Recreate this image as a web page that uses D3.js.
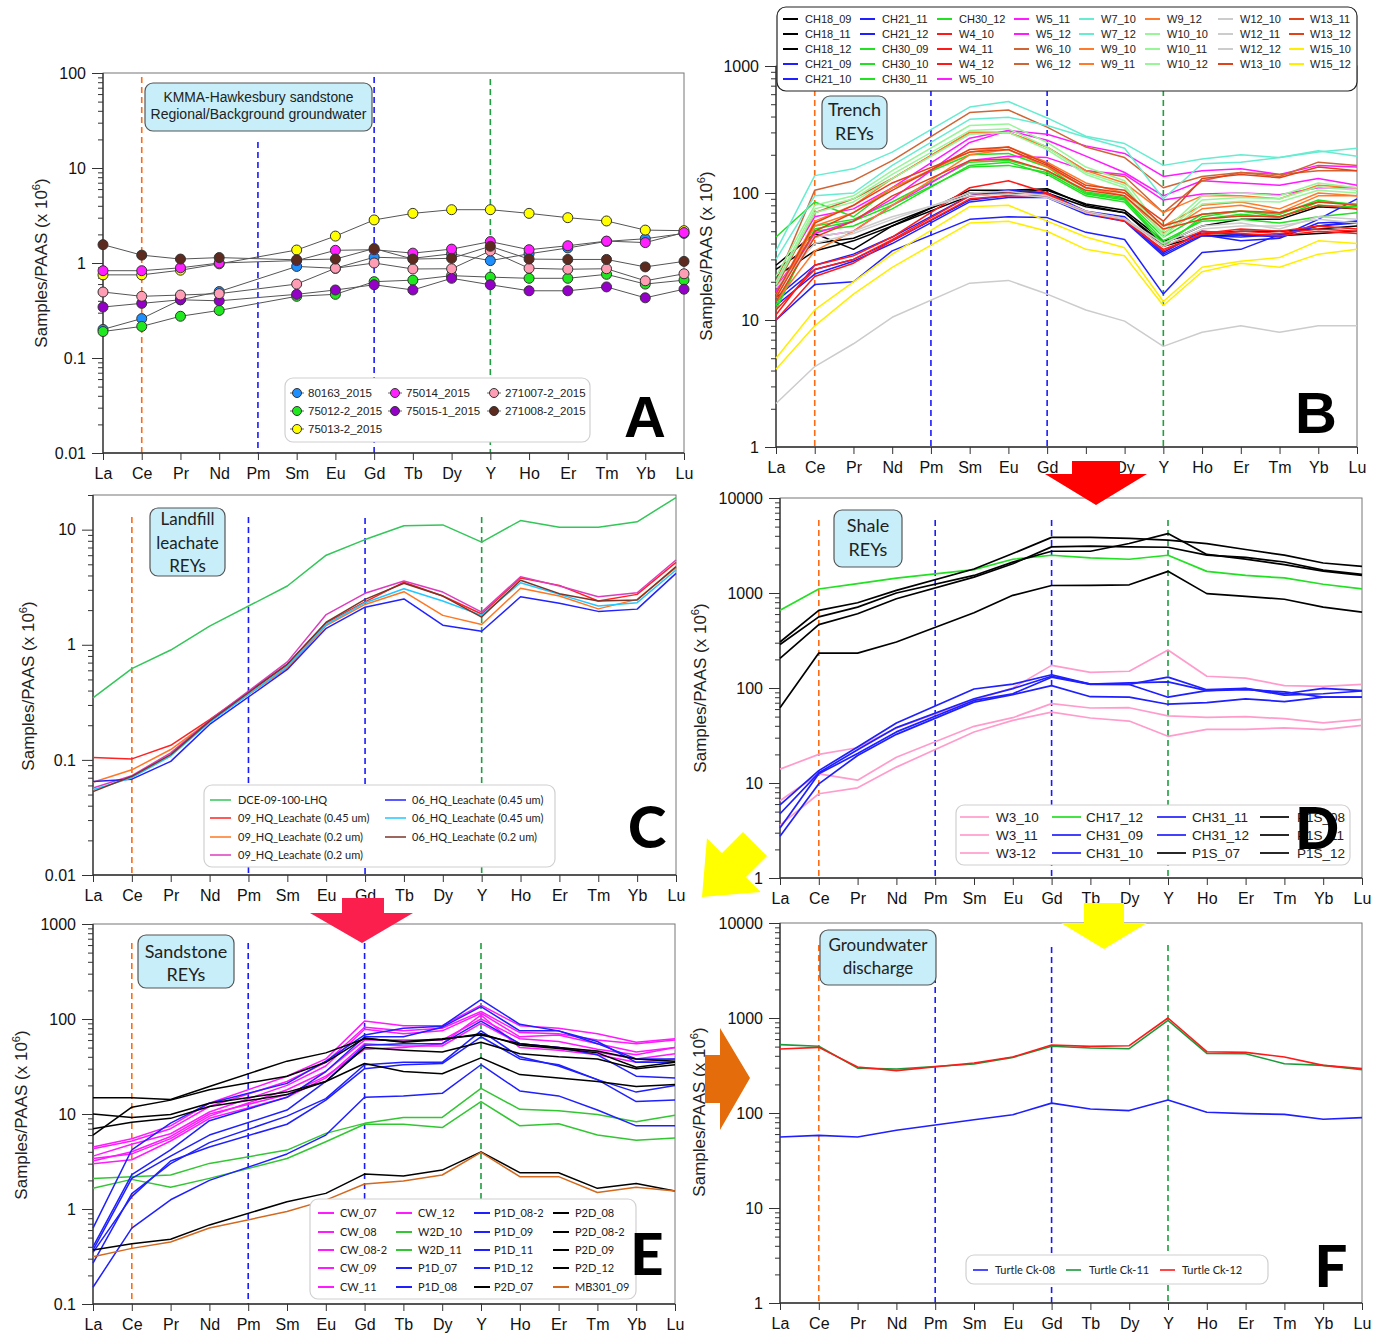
<!DOCTYPE html>
<html><head><meta charset="utf-8">
<script src="https://cdn.jsdelivr.net/npm/d3@7"></script>
<style>body{margin:0;background:#fff}</style>
</head><body><svg id="c" width="1386" height="1335"></svg>
<script>
const elements = ["La","Ce","Pr","Nd","Pm","Sm","Eu","Gd","Tb","Dy","Y","Ho","Er","Tm","Yb","Lu"];

// ---------- Panel A ----------
const A_80163_2015   = [0.20,0.26,0.41,0.50,null,0.92,0.88,1.15,1.12,1.25,1.06,1.25,1.44,1.69,1.80,2.05];
const A_75012_2_2015 = [0.19,0.215,0.275,0.317,null,0.446,0.468,0.636,0.66,0.736,0.71,0.69,0.69,0.76,0.60,0.66];
const A_75013_2_2015 = [0.75,0.75,0.84,0.98,null,1.37,1.92,2.84,3.33,3.64,3.64,3.33,3.0,2.77,2.22,2.19];
const A_75014_2015   = [0.83,0.83,0.89,1.0,null,1.06,1.36,1.38,1.27,1.40,1.68,1.38,1.52,1.70,1.64,2.09];
const A_75015_1_2015 = [0.344,0.376,0.41,0.40,null,0.468,0.52,0.59,0.52,0.69,0.59,0.51,0.51,0.56,0.43,0.53];
const A_271007_2_2015= [0.495,0.446,0.46,0.476,null,0.60,0.88,1.0,0.865,0.87,1.34,0.88,0.86,0.87,0.65,0.77];
const A_271008_2_2015= [1.56,1.21,1.10,1.14,null,1.08,1.10,1.42,1.10,1.12,1.50,1.10,1.09,1.09,0.91,1.04];
const aNames  = ["80163_2015","75012-2_2015","75013-2_2015","75014_2015","75015-1_2015","271007-2_2015","271008-2_2015"];
const aColors = ["#1e8fff","#1fe81f","#ffff00","#ff1fff","#9400c8","#ff9db4","#5c2a1e"];
const aValues = [A_80163_2015,A_75012_2_2015,A_75013_2_2015,A_75014_2015,A_75015_1_2015,A_271007_2_2015,A_271008_2_2015];

// ---------- Panel B ----------
const bNames = ["CH18_09","CH18_11","CH18_12","CH21_09","CH21_10","CH21_11","CH21_12","CH30_09","CH30_10","CH30_11","CH30_12",
  "W4_10","W4_11","W4_12","W5_10","W5_11","W5_12","W6_10","W6_12","W7_10","W7_12","W9_10","W9_11","W9_12",
  "W10_10","W10_11","W10_12","W12_10","W12_11","W12_12","W13_10","W13_11","W13_12","W15_10","W15_12"];
const bColors = ["#000000","#000000","#000000","#1f1fff","#1f1fff","#1f1fff","#1f1fff","#22e022","#22e022","#22e022","#22e022",
  "#ff1a1a","#ff1a1a","#ff1a1a","#ff1aff","#ff1aff","#ff1aff","#cf6535","#cf6535","#66ecd0","#66ecd0","#ff7a2a","#ff7a2a","#ff7a2a",
  "#98f598","#98f598","#98f598","#cccccc","#cccccc","#cccccc","#e0421a","#e0421a","#e0421a","#ffee00","#ffee00"];
const B_CH18_09 = [27,48,36,55,null,105,105,108,80,70,40,55,62,62,78,75];
const B_CH18_11 = [25,40,44,58,null,100,102,105,82,73,42,48,50,50,52,55];
const B_CH18_12 = [22,35,42,55,null,95,100,100,78,70,38,46,47,46,48,50];
const B_CH21_09 = [15,27,33,45,null,95,105,100,72,65,34,50,47,45,62,90];
const B_CH21_10 = [14,25,30,42,null,88,95,95,70,62,33,47,42,44,58,60];
const B_CH21_11 = [13,23,29,40,null,85,92,92,68,60,32,46,45,47,55,58];
const B_CH21_12 = [10,19,20,35,null,62,65,64,49,43,16,34,36,47,55,60];
const B_CH30_09 = [45,85,65,110,null,200,205,160,100,90,45,68,72,68,88,80];
const B_CH30_10 = [13,50,55,75,null,165,175,140,95,85,40,62,68,64,85,82];
const B_CH30_11 = [12,52,60,80,null,160,165,145,98,88,42,60,62,58,65,70];
const B_CH30_12 = [16,55,62,85,null,175,180,150,102,92,38,65,72,65,80,78];
const B_W4_10 = [10,22,28,42,null,90,95,95,72,62,35,48,52,50,55,52];
const B_W4_11 = [11,27,32,45,null,110,125,100,70,60,36,47,50,48,52,50];
const B_W4_12 = [12,25,30,43,null,95,100,98,70,63,38,50,48,46,50,48];
const B_W5_10 = [20,65,75,110,null,270,310,290,235,205,135,150,155,140,165,160];
const B_W5_11 = [18,48,60,90,null,250,310,260,195,145,95,125,120,115,130,115];
const B_W5_12 = [17,45,50,80,null,180,195,190,150,140,88,98,100,97,110,110];
const B_W6_10 = [20,105,125,180,null,430,450,330,230,190,110,135,145,135,175,165];
const B_W6_12 = [18,70,90,130,null,300,300,230,150,135,70,125,145,140,150,150];
const B_W7_10 = [35,137,155,210,null,475,525,390,280,245,165,185,200,190,210,225];
const B_W7_12 = [30,95,100,165,null,380,395,340,275,225,90,170,175,190,215,195];
const B_W9_10 = [15,55,70,110,null,210,230,175,120,100,55,80,85,75,100,95];
const B_W9_11 = [14,35,50,80,null,200,220,160,110,95,48,75,80,70,95,95];
const B_W9_12 = [16,60,80,130,null,300,300,230,150,120,70,95,95,90,115,110];
const B_W10_10 = [22,80,95,150,null,340,350,250,160,125,50,95,100,95,120,110];
const B_W10_11 = [20,75,90,140,null,310,320,230,145,115,47,88,92,90,112,105];
const B_W10_12 = [19,70,85,130,null,290,300,220,140,110,45,82,86,85,105,100];
const B_W12_10 = [2.2,4.3,6.5,10.5,null,19.5,20.5,16,12,9.8,6.2,8,9,8,9,9];
const B_W12_11 = [18,40,48,62,null,100,103,95,72,63,40,55,58,52,65,62];
const B_W12_12 = [16,45,50,65,null,95,98,92,70,62,38,52,55,55,62,58];
const B_W13_10 = [16,58,80,120,null,210,220,165,110,100,60,130,140,132,160,150];
const B_W13_11 = [15,50,70,105,null,220,230,170,115,105,55,68,72,70,85,80];
const B_W13_12 = [14,45,60,95,null,180,185,150,105,95,52,62,66,65,80,75];
const B_W15_10 = [5,12,20,33,null,78,80,60,45,37,14,26,29,31,42,40];
const B_W15_12 = [4.1,9,16,26,null,58,60,50,36,32,13,24,28,26,33,36];
const bValues = [B_CH18_09,B_CH18_11,B_CH18_12,B_CH21_09,B_CH21_10,B_CH21_11,B_CH21_12,B_CH30_09,B_CH30_10,B_CH30_11,B_CH30_12,
  B_W4_10,B_W4_11,B_W4_12,B_W5_10,B_W5_11,B_W5_12,B_W6_10,B_W6_12,B_W7_10,B_W7_12,B_W9_10,B_W9_11,B_W9_12,
  B_W10_10,B_W10_11,B_W10_12,B_W12_10,B_W12_11,B_W12_12,B_W13_10,B_W13_11,B_W13_12,B_W15_10,B_W15_12];

// ---------- Panel C ----------
const cNames = ["DCE-09-100-LHQ","09_HQ_Leachate (0.45 um)","09_HQ_Leachate (0.2 um)","09_HQ_Leachate (0.2 um)","06_HQ_Leachate (0.45 um)","06_HQ_Leachate (0.45 um)","06_HQ_Leachate (0.2 um)"];
const cColors = ["#33c659","#ff2222","#ff7722","#dd3cc0","#2222ff","#22c8ff","#7a3528"];
const C_DCE = [0.346,0.62,0.90,1.45,null,3.24,6.0,8.2,10.8,11.0,7.8,12.0,10.5,10.5,11.7,19.0];
const C_09_045 = [0.105,0.102,0.134,0.224,null,0.67,1.55,2.36,3.5,2.65,1.85,3.8,3.28,2.4,2.74,5.2];
const C_09_02a = [0.064,0.082,0.123,0.217,null,0.63,1.47,2.24,2.89,1.8,1.5,3.1,2.65,2.05,2.48,4.67];
const C_09_02b = [0.057,0.073,0.115,0.22,null,0.71,1.83,2.8,3.58,2.87,1.92,3.9,3.24,2.61,2.83,5.45];
const C_06_045a = [0.065,0.068,0.097,0.203,null,0.61,1.39,2.12,2.5,1.48,1.31,2.61,2.29,1.95,2.04,4.17];
const C_06_045b = [0.055,0.07,0.108,0.212,null,0.65,1.5,2.32,3.07,2.4,1.8,3.46,2.74,2.17,2.32,4.46];
const C_06_02 = [0.053,0.072,0.111,0.217,null,0.68,1.57,2.48,3.42,2.65,1.74,3.63,2.78,2.4,2.45,4.77];
const cValues = [C_DCE,C_09_045,C_09_02a,C_09_02b,C_06_045a,C_06_045b,C_06_02];

// ---------- Panel D ----------
const dNames = ["W3_10","W3_11","W3-12","CH17_12","CH31_09","CH31_10","CH31_11","CH31_12","P1S_07","P1S_08","P1S_11","P1S_12"];
const dColors = ["#ff9ccc","#ff9ccc","#ff9ccc","#22e022","#1f1fff","#1f1fff","#1f1fff","#1f1fff","#000000","#000000","#000000","#000000"];
const D_W3_10 = [14,20,23.5,38,null,75,100,173,146,150,251,133,127,106,104,109];
const D_W3_11 = [6.5,12.5,10.7,18.7,null,39.5,48.7,68.5,61.6,62,50.8,49,50,47.5,43,46.8];
const D_W3_12 = [3.6,7.7,8.9,14.7,null,34.4,45.6,55.7,48.3,44.9,31,36.7,36.7,38,36.4,40.5];
const D_CH17_12 = [657,1102,1257,1435,null,1760,2265,2497,2340,2265,2497,1690,1530,1440,1237,1105];
const D_CH31_09 = [5.9,13.5,23.9,42.8,null,97.6,110,138,110,109,130,96,99,87,99,94];
const D_CH31_10 = [4.75,12.8,22.4,38.3,null,77,98.5,133,110,113,116,94,96,91,80,80];
const D_CH31_11 = [3.36,12.5,20.4,34.5,null,74,87,130,109,109,80,94,98.5,84,87,93];
const D_CH31_12 = [2.75,9.8,19.5,32.5,null,71,85,106,81,80,67.5,70,77,72,80,80];
const D_P1S_07 = [305,657,790,1065,null,1790,2600,3850,3850,3750,3600,3310,2870,2500,2070,1905];
const D_P1S_08 = [287,560,710,1000,null,1530,2115,2750,2750,3320,4220,2550,2270,1990,1700,1530];
const D_P1S_11 = [205,465,605,870,null,1470,2030,3060,3120,3060,3030,2500,2370,2120,1740,1570];
const D_P1S_12 = [62,233,233,305,null,620,945,1200,1205,1220,1690,985,920,860,710,630];
const dValues = [D_W3_10,D_W3_11,D_W3_12,D_CH17_12,D_CH31_09,D_CH31_10,D_CH31_11,D_CH31_12,D_P1S_07,D_P1S_08,D_P1S_11,D_P1S_12];

// ---------- Panel E ----------
const eNames = ["CW_07","CW_08","CW_08-2","CW_09","CW_11","CW_12","W2D_10","W2D_11","P1D_07","P1D_08","P1D_08-2","P1D_09","P1D_11","P1D_12","P2D_07","P2D_08","P2D_08-2","P2D_09","P2D_12","MB301_09"];
const eColors = ["#ff1aff","#ff1aff","#ff1aff","#ff1aff","#ff1aff","#ff1aff","#33c633","#33c633","#1f1fff","#1f1fff","#1f1fff","#1f1fff","#1f1fff","#1f1fff","#000000","#000000","#000000","#000000","#000000","#d2691e"];
const E_CW_07 = [4.5,5.5,7.5,13,null,25,38,95,85,85,140,85,80,70,57,62];
const E_CW_08 = [4.3,5.2,7,12,null,22,35,82,75,80,120,72,70,60,55,60];
const E_CW_08_2 = [3.6,4.8,6.2,10.5,null,20,32,78,70,75,115,65,68,55,45,50];
const E_CW_09 = [3.4,3.8,5.5,9.5,null,18,28,60,60,60,100,62,58,48,42,50];
const E_CW_11 = [3.0,3.3,5.2,9,null,15,24,55,52,52,90,55,50,45,38,43];
const E_CW_12 = [3.2,4.0,5.8,10,null,16,25,48,50,55,110,50,47,42,35,38];
const E_W2D_10 = [2.1,2.19,2.28,3.02,null,4.17,6.25,7.97,9.2,9.2,18.6,11.2,10.8,9.9,8.3,9.7];
const E_W2D_11 = [1.65,2.05,1.69,2.1,null,3.4,5.1,7.8,7.8,7.2,13.5,7.5,7.9,6.0,5.3,5.6];
const E_P1D_07 = [0.63,4.2,8,13,null,21,36,68,80,84,160,88,75,55,38,38];
const E_P1D_08 = [0.4,2.3,4.2,8.5,null,15,28,65,65,82,135,75,75,58,35,35];
const E_P1D_08_2 = [0.37,2.1,3.6,6,null,11,22,53,55,55,95,55,50,42,25,24];
const E_P1D_09 = [0.27,1.45,3.0,5,null,9.5,14.5,33,35,35,75,40,32,23,17,20];
const E_P1D_11 = [0.35,1.35,3.2,4.5,null,7.8,14,30,33,34,65,38,33,23,13.5,14];
const E_P1D_12 = [0.15,0.63,1.25,2.0,null,3.8,6,15,15.5,16.5,33,17.5,15.5,11,7.5,7.5];
const E_P2D_07 = [14.8,14.8,14.2,19.5,null,36,44,62,58,62,68,55,50,46,38,36];
const E_P2D_08 = [6.0,11.8,14.0,18,null,25,35,63,57,61,70,53,49,44,31,35];
const E_P2D_08_2 = [10,9.2,9.9,13,null,17,22,50,47,45,57,43,40,38,30,33];
const E_P2D_09 = [7,8.2,9.0,12,null,16,22,34,28,26.5,39,26,24,22,19.5,20.5];
const E_P2D_12 = [0.37,0.43,0.48,0.68,null,1.19,1.46,2.33,2.22,2.57,4.0,2.41,2.41,1.65,1.86,1.55];
const E_MB301_09 = [0.315,0.385,0.45,0.63,null,0.94,1.24,1.83,1.97,2.28,3.95,2.19,2.19,1.49,1.69,1.55];
const eValues = [E_CW_07,E_CW_08,E_CW_08_2,E_CW_09,E_CW_11,E_CW_12,E_W2D_10,E_W2D_11,E_P1D_07,E_P1D_08,E_P1D_08_2,E_P1D_09,E_P1D_11,E_P1D_12,E_P2D_07,E_P2D_08,E_P2D_08_2,E_P2D_09,E_P2D_12,E_MB301_09];

// ---------- Panel F ----------
const fNames = ["Turtle Ck-08","Turtle Ck-11","Turtle Ck-12"];
const fColors = ["#1f1fff","#1a9a3a","#ff1a1a"];
const F_Ck08 = [55.9,58.2,55.9,65.7,null,85,96,127,110,106,137,102,98.4,96.8,85.8,89.3];
const F_Ck11 = [524,504,297,290,null,328,385,504,483,475,944,424,421,330,317,286];
const F_Ck12 = [472,491,305,279,null,336,389,520,503,511,1000,442,435,389,317,293];
const fValues = [F_Ck08,F_Ck11,F_Ck12];

// ================== drawing ==================
const svg = d3.select("#c");
const SANS = "'Liberation Sans', Arial, sans-serif";
const CAL = "Lato, 'Open Sans', sans-serif";
const fmtTick = v => v >= 1 ? String(Math.round(v)) : String(+v.toPrecision(1));

function panel(p) {
  const g = svg.append("g");
  const x = d3.scalePoint().domain(elements).range([p.left, p.right]);
  const y = d3.scaleLog().domain(p.domain).range([p.bottom, p.top]);
  // frame
  g.append("rect").attr("x", p.left).attr("y", p.top).attr("width", p.right - p.left).attr("height", p.bottom - p.top)
    .attr("fill", "none").attr("stroke", "#777").attr("stroke-width", 1);
  // dashed guide lines
  [["Ce", "#ff6a13", p.dash[0]], ["Pm", "#1a1aff", p.dash[1]], ["Gd", "#1a1aff", p.dash[2]], ["Y", "#1f9f3f", p.dash[3]]]
    .forEach(([e, c, t]) => g.append("line").attr("x1", x(e)).attr("x2", x(e)).attr("y1", t).attr("y2", p.bottom)
      .attr("stroke", c).attr("stroke-width", 1.6).attr("stroke-dasharray", "6,4"));
  // axes
  const majors = [], minors = [];
  const e0 = Math.round(Math.log10(p.domain[0]));
  for (let e = e0; Math.pow(10, e) <= p.domain[1] * 1.0001; e++) {
    const m = +Math.pow(10, e).toPrecision(1);
    majors.push(m);
    for (let k = 2; k <= 9; k++) { const v = +(k * m).toPrecision(2); if (v <= p.domain[1]) minors.push(v); }
  }
  g.append("g").attr("transform", `translate(${p.left},0)`)
    .call(d3.axisLeft(y).tickValues(minors).tickSize(5).tickFormat(""))
    .call(a => a.select(".domain").remove()).selectAll("line").attr("stroke", "#333");
  const ya = g.append("g").attr("transform", `translate(${p.left},0)`)
    .call(d3.axisLeft(y).tickValues(majors).tickSize(11).tickPadding(6).tickFormat(fmtTick))
    .call(a => a.select(".domain").remove());
  ya.attr("font-family", SANS).attr("font-size", 16);
  ya.selectAll("line").attr("stroke", "#333");
  ya.selectAll("text").attr("fill", "#111");
  const xa = g.append("g").attr("transform", `translate(0,${p.bottom})`)
    .call(d3.axisBottom(x).tickSize(7).tickPadding(8))
    .call(a => a.select(".domain").remove());
  xa.attr("font-family", SANS).attr("font-size", 16);
  xa.selectAll("line").attr("stroke", "#333");
  xa.selectAll("text").attr("fill", "#111");
  g.append("line").attr("x1", p.left).attr("x2", p.left).attr("y1", p.top).attr("y2", p.bottom).attr("stroke", "#333").attr("stroke-width", 1.3);
  g.append("line").attr("x1", p.left).attr("x2", p.right).attr("y1", p.bottom).attr("y2", p.bottom).attr("stroke", "#333").attr("stroke-width", 1.3);
  // y label
  const t = g.append("text").attr("transform", `translate(${p.ylab[0]},${p.ylab[1]}) rotate(-90)`)
    .attr("text-anchor", "middle").attr("font-family", SANS).attr("font-size", 17).attr("fill", "#222");
  t.append("tspan").text("Samples/PAAS (x 10");
  t.append("tspan").attr("dy", -7).attr("font-size", 11).text("6");
  t.append("tspan").attr("dy", 7).text(")");
  // series
  const line = d3.line().x(d => x(d.e)).y(d => y(d.v));
  const pts = vals => elements.map((e, i) => ({ e, v: vals[i] })).filter(d => d.v != null);
  p.values.forEach((vals, i) => {
    g.append("path").attr("d", line(pts(vals))).attr("fill", "none")
      .attr("stroke", p.markers ? "#555" : p.colors[i]).attr("stroke-width", p.lw || 1.5).attr("stroke-linejoin", "round");
  });
  if (p.markers) {
    p.values.forEach((vals, i) => {
      g.selectAll(null).data(pts(vals)).enter().append("circle")
        .attr("cx", d => x(d.e)).attr("cy", d => y(d.v)).attr("r", 5)
        .attr("fill", p.colors[i]).attr("stroke", "#333").attr("stroke-width", 1);
    });
  }
  return { x, y };
}

function titleBox(b) {
  const g = svg.append("g");
  g.append("rect").attr("x", b.x).attr("y", b.y).attr("width", b.w).attr("height", b.h).attr("rx", 8)
    .attr("fill", "#c8eff9").attr("stroke", "#555").attr("stroke-width", 1.2);
  b.lines.forEach((s, i) => {
    const t = g.append("text").attr("x", b.x + b.w / 2).attr("y", b.ys[i]).attr("dy", "0.35em").attr("text-anchor", "middle")
      .attr("font-family", b.font).attr("font-size", b.size).attr("fill", "#222").text(s);
    if (b.tl) t.attr("textLength", b.tl[i]).attr("lengthAdjust", "spacingAndGlyphs");
  });
}

function legend(L) {
  const g = svg.append("g");
  g.append("rect").attr("x", L.box[0]).attr("y", L.box[1]).attr("width", L.box[2]).attr("height", L.box[3])
    .attr("rx", L.rx || 8).attr("fill", "#fff").attr("stroke", L.stroke || "#d0d0d0").attr("stroke-width", L.sw || 1.2);
  let k = 0;
  L.cols.forEach(c => {
    for (let r = 0; r < c.n; r++) {
      const yy = L.rows[r];
      if (L.marker) {
        g.append("line").attr("x1", c.lx - 7).attr("x2", c.lx + 7).attr("y1", yy).attr("y2", yy).attr("stroke", "#666").attr("stroke-width", 1);
        g.append("circle").attr("cx", c.lx).attr("cy", yy).attr("r", 4.5).attr("fill", L.colors[k]).attr("stroke", "#333");
      } else {
        g.append("line").attr("x1", c.lx).attr("x2", c.lx + L.len).attr("y1", yy).attr("y2", yy)
          .attr("stroke", L.colors[k]).attr("stroke-width", L.lw || 2);
      }
      g.append("text").attr("x", c.tx).attr("y", yy).attr("dy", "0.35em").attr("font-family", L.font)
        .attr("font-size", L.size).attr("fill", "#222").text(L.names[k]);
      k++;
    }
  });
}

function letter(s, x, y, font) {
  svg.append("text").attr("x", x).attr("y", y).attr("text-anchor", "middle").attr("font-family", font)
    .attr("font-weight", 900).attr("font-size", 58).attr("fill", "#000").text(s);
}

// ---- Panel A
panel({ left: 103, right: 684, top: 73, bottom: 453, domain: [0.01, 100], dash: [77, 142, 77, 79],
  values: aValues, colors: aColors, markers: true, lw: 1, ylab: [47, 263] });
titleBox({ x: 145, y: 83, w: 227, h: 48, lines: ["KMMA-Hawkesbury sandstone", "Regional/Background groundwater"], ys: [97, 114],
  font: SANS, size: 14, tl: [190, 216] });
legend({ box: [285, 378, 305, 64], names: ["80163_2015","75012-2_2015","75013-2_2015","75014_2015","75015-1_2015","271007-2_2015","271008-2_2015"],
  colors: ["#1e8fff","#1fe81f","#ffff00","#ff1fff","#9400c8","#ff9db4","#5c2a1e"],
  cols: [{ lx: 297, tx: 308, n: 3 }, { lx: 395, tx: 406, n: 2 }, { lx: 494, tx: 505, n: 2 }], rows: [393, 411, 429],
  marker: true, font: SANS, size: 11.5 });
letter("A", 645, 437, SANS);

// ---- Panel B
panel({ left: 776, right: 1357, top: 66, bottom: 447, domain: [1, 1000], dash: [90, 90, 90, 90],
  values: bValues, colors: bColors, lw: 1.5, ylab: [712, 256] });
legend({ box: [777, 7, 580, 84], rx: 9, stroke: "#222", sw: 1.2, names: bNames, colors: bColors,
  cols: [{ lx: 783, tx: 805, n: 5 }, { lx: 860, tx: 882, n: 5 }, { lx: 937, tx: 959, n: 5 }, { lx: 1014, tx: 1036, n: 4 },
         { lx: 1079, tx: 1101, n: 4 }, { lx: 1145, tx: 1167, n: 4 }, { lx: 1218, tx: 1240, n: 4 }, { lx: 1289, tx: 1310, n: 4 }],
  rows: [19, 34, 49, 64, 79], len: 15, lw: 2, font: SANS, size: 11 });
titleBox({ x: 822, y: 96, w: 65, h: 53, lines: ["Trench", "REYs"], ys: [110, 134], font: CAL, size: 18 });
letter("B", 1316, 433, SANS);

// ---- Panel C
panel({ left: 93, right: 676, top: 495, bottom: 875, domain: [0.01, 20], dash: [517, 517, 518, 517],
  values: cValues, colors: cColors, lw: 1.5, ylab: [34, 686] });
titleBox({ x: 150, y: 508, w: 75, h: 68, lines: ["Landfill", "leachate", "REYs"], ys: [519, 543, 566], font: CAL, size: 17 });
legend({ box: [204, 785, 351, 82], names: cNames, colors: cColors,
  cols: [{ lx: 210, tx: 238, n: 4 }, { lx: 385, tx: 412, n: 3 }], rows: [800, 818, 837, 855], len: 21, lw: 1.5, font: CAL, size: 11 });
letter("C", 647, 848, CAL);

// ---- Panel D
panel({ left: 780, right: 1362, top: 498, bottom: 878, domain: [1, 10000], dash: [520, 520, 520, 520],
  values: dValues, colors: dColors, lw: 1.7, ylab: [706, 688] });
titleBox({ x: 834, y: 510, w: 68, h: 57, lines: ["Shale", "REYs"], ys: [526, 550], font: CAL, size: 18 });
legend({ box: [956, 805, 394, 60], names: dNames, colors: dColors,
  cols: [{ lx: 960, tx: 996, n: 3 }, { lx: 1052, tx: 1086, n: 3 }, { lx: 1157, tx: 1192, n: 3 }, { lx: 1260, tx: 1297, n: 3 }],
  rows: [817, 835, 853], len: 29, lw: 1.7, font: SANS, size: 13.5 });
letter("D", 1317, 849, CAL);

// ---- Panel E
panel({ left: 93, right: 675, top: 924, bottom: 1304, domain: [0.1, 1000], dash: [943, 943, 943, 943],
  values: eValues, colors: eColors, lw: 1.5, ylab: [27, 1115] });
titleBox({ x: 138, y: 935, w: 96, h: 53, lines: ["Sandstone", "REYs"], ys: [952, 975], font: CAL, size: 18 });
legend({ box: [310, 1199, 326, 100], names: eNames, colors: eColors,
  cols: [{ lx: 318, tx: 340, n: 5 }, { lx: 396, tx: 418, n: 5 }, { lx: 474, tx: 494, n: 5 }, { lx: 553, tx: 575, n: 5 }],
  rows: [1213, 1232, 1250, 1268, 1287], len: 16, lw: 2, font: CAL, size: 11 });
letter("E", 647, 1275, CAL);

// ---- Panel F
panel({ left: 780, right: 1362, top: 923, bottom: 1303, domain: [1, 10000], dash: [945, 947, 947, 945],
  values: fValues, colors: fColors, lw: 1.6, ylab: [705, 1112] });
titleBox({ x: 820, y: 930, w: 116, h: 55, lines: ["Groundwater", "discharge"], ys: [945, 968], font: CAL, size: 17 });
legend({ box: [966, 1255, 302, 29], names: fNames, colors: fColors,
  cols: [{ lx: 973, tx: 995, n: 1 }, { lx: 1066, tx: 1089, n: 1 }, { lx: 1160, tx: 1182, n: 1 }], rows: [1270], len: 15, lw: 1.6, font: CAL, size: 11 });
letter("F", 1331, 1287, CAL);

// ---- Arrows
function poly(pts, color) { svg.append("polygon").attr("points", pts.map(p => p.join(",")).join(" ")).attr("fill", color); }
// red arrow B -> D
poly([[1072,461],[1120,461],[1120,474],[1147,474],[1096,505],[1045,474],[1072,474]], "#ff0000");
// crimson arrow C -> E
poly([[342,898],[384,898],[384,913],[413,913],[362,943],[310,913],[342,913]], "#fb1f4d");
// yellow arrow D -> F
poly([[1084,903],[1124,903],[1124,923],[1147,923],[1104,949],[1061,923],[1084,923]], "#ffff00");
// orange arrow E -> F
poly([[705,1055],[720,1055],[720,1028],[750,1078],[720,1130],[720,1103],[705,1103]], "#e46c0a");
// yellow diagonal arrow D -> C
(function () {
  const T = [702, 897], u = [-Math.SQRT1_2, Math.SQRT1_2], n = [Math.SQRT1_2, Math.SQRT1_2];
  const L = 45, W = 38, w = 17, S = 30;
  const B = [T[0] - u[0] * L, T[1] - u[1] * L];
  const E = [B[0] - u[0] * S, B[1] - u[1] * S];
  const add = (P, v, s) => [P[0] + v[0] * s, P[1] + v[1] * s];
  poly([T, add(B, n, W), add(B, n, w), add(E, n, w), add(E, n, -w), add(B, n, -w), add(B, n, -W)], "#ffff00");
})();
</script></body></html>
